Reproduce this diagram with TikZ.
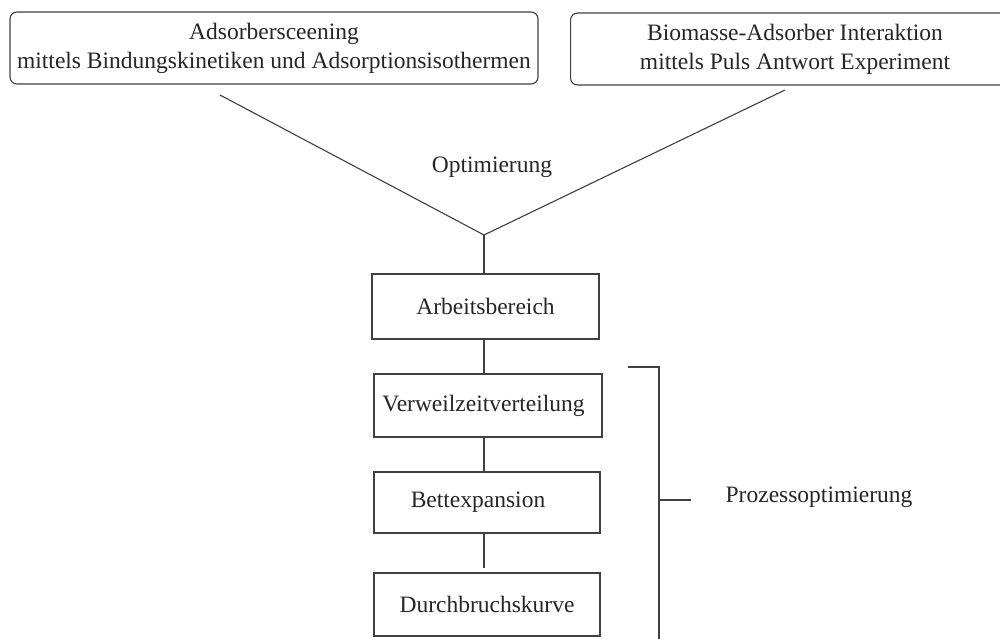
\documentclass[tikz,border=0pt]{standalone}
\usepackage{fontspec}
\setmainfont{Liberation Serif}
\begin{document}
\begin{tikzpicture}[x=1pt,y=-1pt,
  lbl/.style={font=\fontsize{23.5}{29}\selectfont, text=black!85, inner sep=0pt},
  topbox/.style={draw=black!75, line width=1.1pt, rounded corners=7pt, font=\fontsize{23.5}{29}\selectfont, text=black!85, align=center, inner sep=0pt},
  stepbox/.style={draw=black!75, line width=1.1pt, font=\fontsize{23.5}{29}\selectfont, text=black!85, inner sep=0pt, minimum width=227pt},
  conn/.style={draw=black!75, line width=1.1pt}]
\useasboundingbox (0,0) rectangle (1000,639);
\clip (0,0) rectangle (1000,639);
\fill[white] (0,0) rectangle (1000,639);
\node[topbox, minimum width=528pt, minimum height=72pt] (a1) at (274,48) {Adsorbersceening\\mittels Bindungskinetiken und Adsorptionsisothermen};
\node[topbox, minimum width=450pt, minimum height=72pt, anchor=west] (a2) at (570,49) {};
\node[lbl, align=center] (a2t) at (795,49) {Biomasse-Adsorber Interaktion\\mittels Puls Antwort Experiment};
\coordinate (l1) at (220,95);
\coordinate (r1) at (785,90);
\coordinate (v) at (484,235);
\node[lbl] (opt) at (492,167) {Optimierung};
\node[stepbox, minimum height=65pt] (ab) at (485.5,306.5) {Arbeitsbereich};
\node[stepbox, minimum width=228pt, minimum height=63pt] (vz) at (488,405.5) {\hspace*{-9pt}Verweilzeitverteilung};
\node[stepbox, minimum width=226pt, minimum height=61pt] (be) at (487,502.5) {\hspace*{-18pt}Bettexpansion};
\node[stepbox, minimum width=226pt, minimum height=63pt] (db) at (487,604.5) {Durchbruchskurve};
\coordinate (dbt) at (484,568);
\draw[conn] (l1) -- (v) -- (r1);
\draw[conn] (v) -- (v |- ab.north);
\draw[conn] (484,339) -- (484,374);
\draw[conn] (484,437) -- (484,472);
\draw[conn] (484,533) -- (dbt);
\coordinate (b1) at (628,367);
\coordinate (b2) at (659,367);
\coordinate (b3) at (659,645);
\coordinate (bm) at (659,500);
\coordinate (bt) at (691,500);
\draw[conn] (b1) -- (b2) -- (b3);
\draw[conn] (bm) -- (bt);
\node[lbl] (po) at (819,497) {Prozessoptimierung};
\end{tikzpicture}
\end{document}
